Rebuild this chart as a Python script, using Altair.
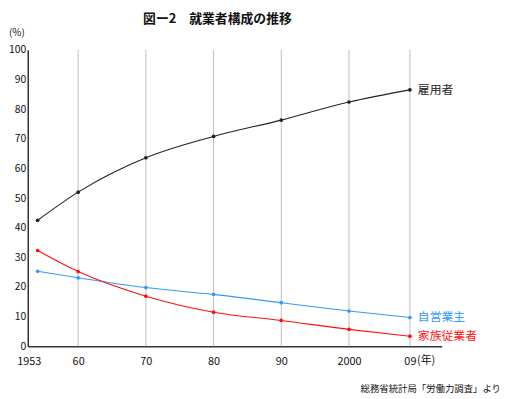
import altair as alt
import pandas as pd

years = [1953, 1960, 1970, 1980, 1990, 2000, 2009]
koyo = [42.5, 52.0, 63.6, 70.8, 76.3, 82.4, 86.5]
jiei = [25.3, 23.1, 19.8, 17.5, 14.7, 11.9, 9.7]
kazoku = [32.3, 25.2, 16.9, 11.5, 8.7, 5.7, 3.4]
series_names = ["雇用者", "自営業主", "家族従業者"]
series_colors = ["#222222", "#3399ff", "#ff1010"]
grid_years = [1960, 1970, 1980, 1990, 2000, 2009]
y_ticks = [0, 10, 20, 30, 40, 50, 60, 70, 80, 90, 100]

rows = []
for name, vals in zip(series_names, [koyo, jiei, kazoku]):
    for yr, v in zip(years, vals):
        rows.append({"year": yr, "value": v, "series": name})
df = pd.DataFrame(rows)
last = df[df["year"] == years[-1]]

FONT = "Noto Sans CJK JP"
W, H = 419, 300

xscale = alt.Scale(domain=[1951.5, 1953, 1960, 2013.7], range=[0, 10, 51, W])
yscale = alt.Scale(domain=[0, 100])
cscale = alt.Scale(domain=series_names, range=series_colors)

xaxis = alt.Axis(values=years, grid=False, ticks=False,
                 domainColor="#333333", domainWidth=1.5,
                 labelExpr="datum.value == 1953 || datum.value == 2000 ? '' + datum.value : (datum.value % 100 < 10 ? '0' + (datum.value % 100) : '' + (datum.value % 100))",
                 labelFont=FONT, labelFontSize=11, labelColor="#111111",
                 labelPadding=9, labelOverlap=False, labelFlush=False,
                 labelOffset={"condition": {"test": "datum.value == 1953", "value": -9}, "value": 0},
                 title=None)
yaxis = alt.Axis(values=y_ticks, grid=False, ticks=False,
                 domainColor="#333333", domainWidth=1.5,
                 labelFont=FONT, labelFontSize=10.5, labelColor="#111111",
                 labelPadding=2, labelOverlap=False, title=None)

X = alt.X("year:Q", scale=xscale, axis=xaxis)
Y = alt.Y("value:Q", scale=yscale, axis=yaxis)
C = alt.Color("series:N", scale=cscale, legend=None)

base = alt.Chart(df).encode(x=X, y=Y, color=C)
lines = base.mark_line(strokeWidth=1.1, interpolate="monotone")
points = base.mark_circle(size=14, opacity=1)

grid = alt.Chart(pd.DataFrame({"year": grid_years})).mark_rule(
    color="#bdbdbd", strokeWidth=1
).encode(x=X, y=alt.value(0), y2=alt.value(H))

end_labels = alt.Chart(last).mark_text(
    align="left", baseline="middle", dx=8, font=FONT, fontSize=12
).encode(x=X, y=Y, text="series:N", color=C)

one = alt.Data(values=[{}])

def label(txt, x, y, size=12, weight="normal", align="left", color="#111111"):
    return alt.Chart(one).mark_text(
        text=txt, font=FONT, fontSize=size, fontWeight=weight,
        align=align, baseline="middle", color=color
    ).encode(x=alt.value(x), y=alt.value(y))

title = label("図ー2　就業者構成の推移", 192, -31, size=13, weight="bold", align="center")
pct = label("(%)", -11, -17, size=10, align="center")
nen = label("(年)", 394, 15 + H, size=11)
source = label("総務省統計局「労働力調査」より", 479, 343, size=9.5, align="right")

chart = alt.layer(lines, grid, points, end_labels, title, pct, nen, source).properties(
    width=W, height=H,
    autosize=alt.AutoSizeParams(type="none"),
    padding={"left": 20, "top": 40, "right": 61, "bottom": 50},
).configure_view(stroke=None)

chart.save("out.html", embed_options={"renderer": "svg", "actions": False})
